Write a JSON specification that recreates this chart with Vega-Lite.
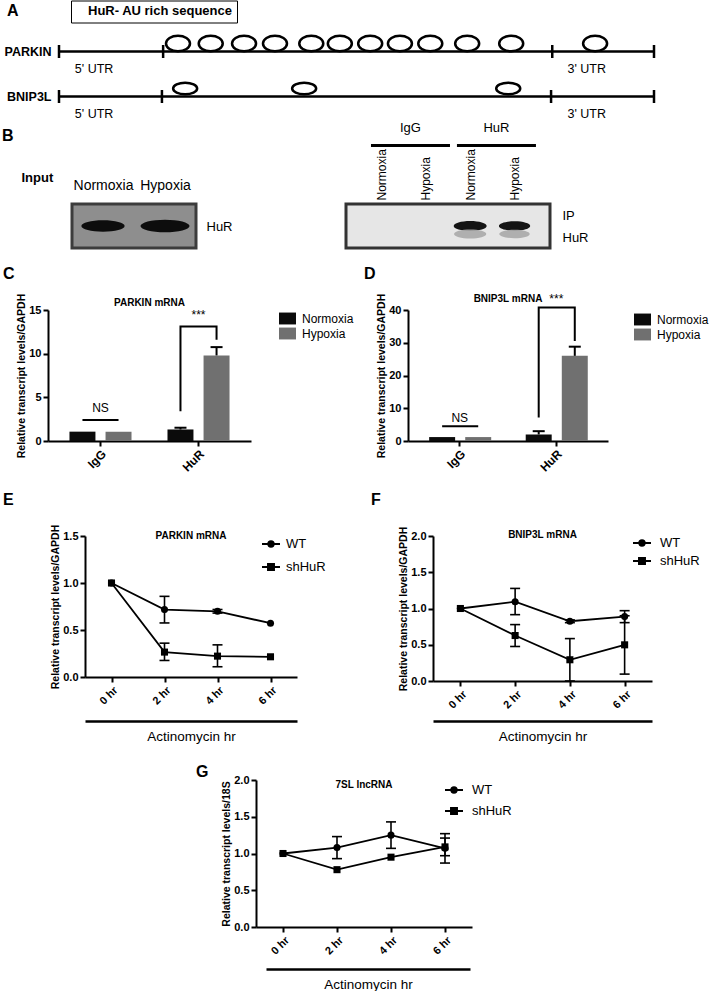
{
  "$schema": "https://vega.github.io/schema/vega-lite/v6.json",
  "background": "white",
  "padding": {"left": 2, "top": 0, "right": 0, "bottom": 0},
  "spacing": 0,
  "resolve": {"scale": {"x": "independent", "y": "independent", "color": "independent", "shape": "independent", "stroke": "independent", "size": "independent"}, "legend": {"color": "independent", "shape": "independent", "stroke": "independent", "size": "independent"}},
  "config": {
    "font": "Liberation Sans",
    "view": {"stroke": null},
    "axis": {"grid": false, "domainColor": "black", "domainWidth": 2, "tickColor": "black", "tickWidth": 2, "tickSize": 5, "labelColor": "black", "labelFont": "Liberation Sans", "labelFontWeight": "bold", "labelFontSize": 11, "titleColor": "black", "titleFont": "Liberation Sans", "titleFontWeight": "bold", "titleFontSize": 10.5},
    "legend": {"labelColor": "black", "labelFont": "Liberation Sans", "padding": 0, "titleColor": "black"},
    "title": {"font": "Liberation Sans", "fontSize": 16, "fontWeight": "bold", "color": "black", "anchor": "start", "frame": "group"},
    "text": {"font": "Liberation Sans", "color": "black"}
  },
  "datasets": {
    "A_lines": [{"gene": "PARKIN", "start": 0, "end": 100}, {"gene": "BNIP3L", "start": 0, "end": 100}],
    "A_ticks": [{"gene": "PARKIN", "pos": 0}, {"gene": "PARKIN", "pos": 17.5}, {"gene": "PARKIN", "pos": 82.9}, {"gene": "PARKIN", "pos": 100}, {"gene": "BNIP3L", "pos": 0}, {"gene": "BNIP3L", "pos": 17.3}, {"gene": "BNIP3L", "pos": 82.7}, {"gene": "BNIP3L", "pos": 100}],
    "A_sites": [
      {"gene": "PARKIN", "pos": 20.0, "feature": "HuR- AU rich sequence"},
      {"gene": "PARKIN", "pos": 25.5, "feature": "HuR- AU rich sequence"},
      {"gene": "PARKIN", "pos": 31.1, "feature": "HuR- AU rich sequence"},
      {"gene": "PARKIN", "pos": 36.3, "feature": "HuR- AU rich sequence"},
      {"gene": "PARKIN", "pos": 42.4, "feature": "HuR- AU rich sequence"},
      {"gene": "PARKIN", "pos": 47.2, "feature": "HuR- AU rich sequence"},
      {"gene": "PARKIN", "pos": 52.3, "feature": "HuR- AU rich sequence"},
      {"gene": "PARKIN", "pos": 57.3, "feature": "HuR- AU rich sequence"},
      {"gene": "PARKIN", "pos": 62.4, "feature": "HuR- AU rich sequence"},
      {"gene": "PARKIN", "pos": 68.6, "feature": "HuR- AU rich sequence"},
      {"gene": "PARKIN", "pos": 76.0, "feature": "HuR- AU rich sequence"},
      {"gene": "PARKIN", "pos": 90.1, "feature": "HuR- AU rich sequence"},
      {"gene": "BNIP3L", "pos": 21.2, "feature": "HuR- AU rich sequence"},
      {"gene": "BNIP3L", "pos": 41.2, "feature": "HuR- AU rich sequence"},
      {"gene": "BNIP3L", "pos": 75.5, "feature": "HuR- AU rich sequence"}
    ],
    "A_labels": [{"gene": "PARKIN", "pos": 5.9, "label": "5' UTR"}, {"gene": "PARKIN", "pos": 88.7, "label": "3' UTR"}, {"gene": "BNIP3L", "pos": 5.9, "label": "5' UTR"}, {"gene": "BNIP3L", "pos": 88.7, "label": "3' UTR"}],
    "BL_bands": [{"lane": "Normoxia", "intensity": 0.78}, {"lane": "Hypoxia", "intensity": 1.0}],
    "BL_rows": [{"protein": "HuR"}],
    "BR_bands": [{"lane": "HuR Normoxia", "intensity": 1.0}, {"lane": "HuR Hypoxia", "intensity": 0.9}],
    "BR_faint": [{"lane": "HuR Normoxia", "intensity": 0.95}, {"lane": "HuR Hypoxia", "intensity": 0.85}],
    "BR_groups": [{"group": "IgG"}, {"group": "HuR"}],
    "BR_rows": [{"protein": "IP"}, {"protein": "HuR"}],
    "C_bars": [{"target": "IgG", "condition": "Normoxia", "mean": 1.07, "hi": 1.07}, {"target": "IgG", "condition": "Hypoxia", "mean": 1.07, "hi": 1.07}, {"target": "HuR", "condition": "Normoxia", "mean": 1.32, "hi": 1.52}, {"target": "HuR", "condition": "Hypoxia", "mean": 9.8, "hi": 10.75}],
    "C_lines": [{"g": "ns", "o": 1, "target": "IgG", "condition": "Normoxia", "v": 2.4}, {"g": "ns", "o": 2, "target": "IgG", "condition": "Hypoxia", "v": 2.4}, {"g": "br", "o": 1, "target": "HuR", "condition": "Normoxia", "v": 3.4}, {"g": "br", "o": 2, "target": "HuR", "condition": "Normoxia", "v": 13.1}, {"g": "br", "o": 3, "target": "HuR", "condition": "Hypoxia", "v": 13.1}, {"g": "br", "o": 4, "target": "HuR", "condition": "Hypoxia", "v": 11.6}],
    "C_text": [{"target": "IgG", "label": "NS", "v": 3.8}, {"target": "HuR", "label": "***", "v": 14.4}],
    "D_bars": [{"target": "IgG", "condition": "Normoxia", "mean": 1.2, "hi": 1.2}, {"target": "IgG", "condition": "Hypoxia", "mean": 1.2, "hi": 1.2}, {"target": "HuR", "condition": "Normoxia", "mean": 2.0, "hi": 3.0}, {"target": "HuR", "condition": "Hypoxia", "mean": 26.0, "hi": 28.8}],
    "D_lines": [{"g": "ns", "o": 1, "target": "IgG", "condition": "Normoxia", "v": 4.5}, {"g": "ns", "o": 2, "target": "IgG", "condition": "Hypoxia", "v": 4.5}, {"g": "br", "o": 1, "target": "HuR", "condition": "Normoxia", "v": 7.2}, {"g": "br", "o": 2, "target": "HuR", "condition": "Normoxia", "v": 40.8}, {"g": "br", "o": 3, "target": "HuR", "condition": "Hypoxia", "v": 40.8}, {"g": "br", "o": 4, "target": "HuR", "condition": "Hypoxia", "v": 30.5}],
    "D_text": [{"target": "IgG", "label": "NS", "v": 6.9}, {"target": "HuR", "label": "***", "v": 43.4}],
    "E": [
      {"series": "WT", "time": "0 hr", "mean": 1.0, "lo": 1.0, "hi": 1.0},
      {"series": "WT", "time": "2 hr", "mean": 0.717, "lo": 0.575, "hi": 0.858},
      {"series": "WT", "time": "4 hr", "mean": 0.699, "lo": 0.68, "hi": 0.718},
      {"series": "WT", "time": "6 hr", "mean": 0.572, "lo": 0.565, "hi": 0.579},
      {"series": "shHuR", "time": "0 hr", "mean": 1.0, "lo": 1.0, "hi": 1.0},
      {"series": "shHuR", "time": "2 hr", "mean": 0.265, "lo": 0.176, "hi": 0.36},
      {"series": "shHuR", "time": "4 hr", "mean": 0.222, "lo": 0.109, "hi": 0.342},
      {"series": "shHuR", "time": "6 hr", "mean": 0.215, "lo": 0.205, "hi": 0.225}
    ],
    "F": [
      {"series": "WT", "time": "0 hr", "mean": 1.0, "lo": 1.0, "hi": 1.0},
      {"series": "WT", "time": "2 hr", "mean": 1.094, "lo": 0.915, "hi": 1.277},
      {"series": "WT", "time": "4 hr", "mean": 0.824, "lo": 0.805, "hi": 0.843},
      {"series": "WT", "time": "6 hr", "mean": 0.888, "lo": 0.805, "hi": 0.97},
      {"series": "shHuR", "time": "0 hr", "mean": 1.0, "lo": 1.0, "hi": 1.0},
      {"series": "shHuR", "time": "2 hr", "mean": 0.627, "lo": 0.476, "hi": 0.778},
      {"series": "shHuR", "time": "4 hr", "mean": 0.293, "lo": 0.0, "hi": 0.585},
      {"series": "shHuR", "time": "6 hr", "mean": 0.499, "lo": 0.095, "hi": 0.9}
    ],
    "G": [
      {"series": "WT", "time": "0 hr", "mean": 1.0, "lo": 1.0, "hi": 1.0},
      {"series": "WT", "time": "2 hr", "mean": 1.08, "lo": 0.93, "hi": 1.23},
      {"series": "WT", "time": "4 hr", "mean": 1.25, "lo": 1.07, "hi": 1.43},
      {"series": "WT", "time": "6 hr", "mean": 1.07, "lo": 0.87, "hi": 1.27},
      {"series": "shHuR", "time": "0 hr", "mean": 1.0, "lo": 1.0, "hi": 1.0},
      {"series": "shHuR", "time": "2 hr", "mean": 0.78, "lo": 0.765, "hi": 0.795},
      {"series": "shHuR", "time": "4 hr", "mean": 0.95, "lo": 0.935, "hi": 0.965},
      {"series": "shHuR", "time": "6 hr", "mean": 1.09, "lo": 0.97, "hi": 1.21}
    ]
  },
  "vconcat": [
    {
      "resolve": {"scale": {"x": "independent", "y": "independent", "color": "independent", "shape": "independent", "stroke": "independent", "size": "independent"}, "legend": {"color": "independent", "shape": "independent", "stroke": "independent", "size": "independent"}},
      "hconcat": [
        {"width": 12, "height": 1, "data": {"values": []}, "mark": "point", "title": {"text": "A", "dx": -40, "offset": 10.5}},
        {
          "width": 595, "height": 92,
          "layer": [
            {"data": {"name": "A_lines"}, "mark": {"type": "rule", "color": "black", "strokeWidth": 2.5},
             "encoding": {
               "x": {"field": "start", "type": "quantitative", "scale": {"domain": [0, 100], "nice": false, "zero": false}, "axis": null},
               "x2": {"field": "end"},
               "y": {"field": "gene", "type": "nominal", "sort": ["PARKIN", "BNIP3L"], "scale": {"type": "point", "padding": 0.522, "align": 0.479}, "axis": {"title": null, "ticks": false, "domain": false, "labelFontSize": 12.5, "labelPadding": 8}}}},
            {"data": {"name": "A_ticks"}, "mark": {"type": "point", "shape": "M0,-1L0,1", "size": 169, "color": "black", "strokeWidth": 2.5, "filled": false, "opacity": 1},
             "encoding": {
               "x": {"field": "pos", "type": "quantitative", "scale": {"domain": [0, 100], "nice": false, "zero": false}, "axis": null},
               "y": {"field": "gene", "type": "nominal", "sort": ["PARKIN", "BNIP3L"], "scale": {"type": "point", "padding": 0.522, "align": 0.479}}}},
            {"data": {"name": "A_sites"}, "mark": {"type": "point", "filled": false, "strokeWidth": 2.5, "size": 576, "yOffset": -8, "opacity": 1},
             "encoding": {
               "x": {"field": "pos", "type": "quantitative", "scale": {"domain": [0, 100], "nice": false, "zero": false}, "axis": null},
               "y": {"field": "gene", "type": "nominal", "sort": ["PARKIN", "BNIP3L"], "scale": {"type": "point", "padding": 0.522, "align": 0.479}},
               "shape": {"field": "gene", "type": "nominal", "scale": {"domain": ["PARKIN", "BNIP3L"], "range": ["M-1,0A1,0.65 0 1,1 1,0A1,0.65 0 1,1 -1,0Z", "M-1,0A1,0.48 0 1,1 1,0A1,0.48 0 1,1 -1,0Z"]}, "legend": null},
               "stroke": {"field": "feature", "type": "nominal", "scale": {"range": ["black"]}, "legend": {"title": null, "orient": "none", "legendX": 12, "legendY": -28.5, "strokeColor": "black", "padding": 4, "symbolOpacity": 0, "symbolSize": 1, "labelOffset": 0, "labelFontSize": 13, "labelFontWeight": "bold", "encode": {"legend": {"update": {"strokeWidth": {"value": 2}}}}}}}},
            {"data": {"name": "A_labels"}, "mark": {"type": "text", "dy": 17, "fontSize": 12.5},
             "encoding": {
               "x": {"field": "pos", "type": "quantitative", "scale": {"domain": [0, 100], "nice": false, "zero": false}, "axis": null},
               "y": {"field": "gene", "type": "nominal", "sort": ["PARKIN", "BNIP3L"], "scale": {"type": "point", "padding": 0.522, "align": 0.479}},
               "text": {"field": "label"}}}
          ]
        }
      ],
      "spacing": 0, "bounds": "flush"
    },
    {
      "resolve": {"scale": {"x": "independent", "y": "independent"}},
      "hconcat": [
        {"width": 299, "height": 1, "data": {"values": []}, "mark": "point", "title": {"text": "B", "dx": -45, "offset": 0}},
        {"width": 204, "height": 3, "data": {"name": "BR_groups"}, "mark": {"type": "bar", "color": "black"},
         "encoding": {"x": {"field": "group", "type": "nominal", "sort": ["IgG", "HuR"], "scale": {"paddingInner": 0.081, "paddingOuter": 0.227, "align": 0.64}, "axis": {"orient": "top", "title": null, "labelAngle": 0, "labelFontWeight": "normal", "labelFontSize": 13, "labelPadding": 10, "ticks": false, "domain": false}}}}
      ],
      "spacing": 0, "bounds": "flush"
    },
    {
      "resolve": {"scale": {"x": "independent", "y": "independent", "size": "independent"}, "legend": {"size": "independent"}},
      "hconcat": [
        {"width": 25, "height": 1, "data": {"values": []}, "mark": "point"},
        {
          "width": 124, "height": 44,
          "view": {"fill": "#8e8e8e", "stroke": "#3c3c3c", "strokeWidth": 3},
          "layer": [
            {"data": {"name": "BL_bands"}, "mark": {"type": "point", "shape": "M-1,0A1,0.26 0 1,1 1,0A1,0.26 0 1,1 -1,0Z", "filled": true, "color": "#0d0d0d", "opacity": 1},
             "encoding": {
               "x": {"field": "lane", "type": "nominal", "scale": {"type": "point", "domain": ["Normoxia", "Hypoxia"], "padding": 0.5}, "axis": {"orient": "top", "title": "Input", "titleX": -51, "titleY": -27, "titleAlign": "left", "titleBaseline": "middle", "titleFontSize": 13, "titleFontWeight": "bold", "titleAngle": 0, "labelAngle": 0, "labelFontWeight": "normal", "labelFontSize": 14, "labelPadding": 12, "ticks": false, "domain": false}},
               "size": {"field": "intensity", "type": "quantitative", "scale": {"domain": [0, 1], "range": [0, 2401]}, "legend": null}}},
            {"data": {"name": "BL_rows"}, "mark": {"type": "text", "text": ""},
             "encoding": {"y": {"field": "protein", "type": "nominal", "scale": {"type": "point", "padding": 0.5}, "axis": {"orient": "right", "title": null, "ticks": false, "domain": false, "labelFontWeight": "normal", "labelFontSize": 13, "labelPadding": 10}}}}
          ]
        },
        {"width": 150, "height": 1, "data": {"values": []}, "mark": "point"},
        {
          "width": 204, "height": 44,
          "view": {"fill": "#e6e6e6", "stroke": "#333333", "strokeWidth": 3},
          "layer": [
            {"data": {"name": "BR_bands"}, "mark": {"type": "point", "shape": "M-1,0A1,0.3 0 1,1 1,0A1,0.3 0 1,1 -1,0Z", "filled": true, "color": "#141414", "opacity": 1},
             "encoding": {
               "x": {"field": "lane", "type": "nominal", "scale": {"type": "point", "domain": ["IgG Normoxia", "IgG Hypoxia", "HuR Normoxia", "HuR Hypoxia"], "padding": 0.8}, "axis": {"orient": "top", "title": null, "labelExpr": "split(datum.label, ' ')[1]", "labelAngle": -90, "labelAlign": "left", "labelBaseline": "middle", "labelFontWeight": "normal", "labelFontSize": 12, "labelPadding": 4, "ticks": false, "domain": false}},
               "size": {"field": "intensity", "type": "quantitative", "scale": {"domain": [0, 1], "range": [0, 1089]}, "legend": null}}},
            {"data": {"name": "BR_faint"}, "mark": {"type": "point", "shape": "M-1,0A1,0.28 0 1,1 1,0A1,0.28 0 1,1 -1,0Z", "filled": true, "color": "#a8a8a8", "opacity": 0.9, "yOffset": 8},
             "encoding": {
               "x": {"field": "lane", "type": "nominal"},
               "size": {"field": "intensity", "type": "quantitative", "legend": null}}},
            {"data": {"name": "BR_rows"}, "mark": {"type": "text", "text": ""},
             "encoding": {"y": {"field": "protein", "type": "nominal", "sort": ["IP", "HuR"], "scale": {"type": "point", "padding": 0.5}, "axis": {"orient": "right", "title": null, "ticks": false, "domain": false, "labelFontWeight": "normal", "labelFontSize": 13, "labelPadding": 12}}}}
          ]
        }
      ],
      "spacing": 0, "bounds": "flush"
    },
    {"width": 1, "height": 16, "data": {"values": []}, "mark": "point"},
    {
      "resolve": {"scale": {"x": "independent", "y": "independent", "color": "independent"}, "legend": {"color": "independent"}},
      "hconcat": [
        {"width": 1, "height": 1, "data": {"values": []}, "mark": "point", "title": {"text": "C", "dx": -44, "offset": 28}},
        {
          "width": 203, "height": 131,
          "title": {"text": "PARKIN mRNA", "anchor": "middle", "fontSize": 10, "offset": -15},
          "layer": [
            {"data": {"name": "C_bars"}, "mark": {"type": "bar"},
             "encoding": {
               "x": {"field": "target", "type": "nominal", "sort": ["IgG", "HuR"], "scale": {"paddingInner": 0.367, "paddingOuter": 0.219}, "axis": {"title": null, "labelAngle": -45, "labelFontSize": 12}},
               "xOffset": {"field": "condition", "type": "nominal", "sort": ["Normoxia", "Hypoxia"], "scale": {"paddingInner": 0.28, "paddingOuter": 0}},
               "y": {"field": "mean", "type": "quantitative", "scale": {"domain": [0, 15], "nice": false}, "axis": {"values": [0, 5, 10, 15], "tickCount": 20, "labelOverlap": false, "title": "Relative transcript levels/GAPDH", "titlePadding": 2}},
               "color": {"field": "condition", "type": "nominal", "scale": {"domain": ["Normoxia", "Hypoxia"], "range": ["#0b0b0b", "#707070"]}, "legend": {"title": null, "orient": "none", "legendX": 231, "legendY": 0, "symbolType": "M-1,-0.7H1V0.7H-1Z", "symbolSize": 289, "symbolStrokeWidth": 0, "labelFontSize": 12, "labelOffset": 6, "rowPadding": 0}}}},
            {"data": {"name": "C_bars"}, "transform": [{"filter": "datum.hi > datum.mean"}], "mark": {"type": "rule", "color": "black", "strokeWidth": 2},
             "encoding": {
               "x": {"field": "target", "type": "nominal", "sort": ["IgG", "HuR"]},
               "xOffset": {"field": "condition", "type": "nominal", "sort": ["Normoxia", "Hypoxia"]},
               "y": {"field": "mean", "type": "quantitative"},
               "y2": {"field": "hi"}}},
            {"data": {"name": "C_bars"}, "transform": [{"filter": "datum.hi > datum.mean"}], "mark": {"type": "point", "shape": "M-1,0H1", "size": 144, "color": "black", "strokeWidth": 2, "filled": false, "opacity": 1},
             "encoding": {
               "x": {"field": "target", "type": "nominal", "sort": ["IgG", "HuR"]},
               "xOffset": {"field": "condition", "type": "nominal", "sort": ["Normoxia", "Hypoxia"]},
               "y": {"field": "hi", "type": "quantitative"}}},
            {"data": {"name": "C_lines"}, "mark": {"type": "line", "color": "black", "strokeWidth": 2},
             "encoding": {
               "x": {"field": "target", "type": "nominal", "sort": ["IgG", "HuR"]},
               "xOffset": {"field": "condition", "type": "nominal", "sort": ["Normoxia", "Hypoxia"]},
               "y": {"field": "v", "type": "quantitative"},
               "detail": {"field": "g", "type": "nominal"},
               "order": {"field": "o", "type": "quantitative"}}},
            {"data": {"name": "C_text"}, "mark": {"type": "text", "fontSize": 12, "baseline": "middle"},
             "encoding": {
               "x": {"field": "target", "type": "nominal", "sort": ["IgG", "HuR"]},
               "y": {"field": "v", "type": "quantitative"},
               "text": {"field": "label"}}}
          ]
        },
        {"width": 157, "height": 1, "data": {"values": []}, "mark": "point", "title": {"text": "D", "dx": 113, "offset": 28}},
        {
          "width": 200, "height": 131,
          "title": {"text": "BNIP3L mRNA", "anchor": "middle", "fontSize": 10, "offset": -11},
          "layer": [
            {"data": {"name": "D_bars"}, "mark": {"type": "bar"},
             "encoding": {
               "x": {"field": "target", "type": "nominal", "sort": ["IgG", "HuR"], "scale": {"paddingInner": 0.367, "paddingOuter": 0.219}, "axis": {"title": null, "labelAngle": -45, "labelFontSize": 12}},
               "xOffset": {"field": "condition", "type": "nominal", "sort": ["Normoxia", "Hypoxia"], "scale": {"paddingInner": 0.28, "paddingOuter": 0}},
               "y": {"field": "mean", "type": "quantitative", "scale": {"domain": [0, 40], "nice": false}, "axis": {"values": [0, 10, 20, 30, 40], "tickCount": 20, "labelOverlap": false, "title": "Relative transcript levels/GAPDH", "titlePadding": 2}},
               "color": {"field": "condition", "type": "nominal", "scale": {"domain": ["Normoxia", "Hypoxia"], "range": ["#0b0b0b", "#707070"]}, "legend": {"title": null, "orient": "none", "legendX": 226, "legendY": 1, "symbolType": "M-1,-0.7H1V0.7H-1Z", "symbolSize": 289, "symbolStrokeWidth": 0, "labelFontSize": 12, "labelOffset": 6, "rowPadding": 0}}}},
            {"data": {"name": "D_bars"}, "transform": [{"filter": "datum.hi > datum.mean"}], "mark": {"type": "rule", "color": "black", "strokeWidth": 2},
             "encoding": {
               "x": {"field": "target", "type": "nominal", "sort": ["IgG", "HuR"]},
               "xOffset": {"field": "condition", "type": "nominal", "sort": ["Normoxia", "Hypoxia"]},
               "y": {"field": "mean", "type": "quantitative"},
               "y2": {"field": "hi"}}},
            {"data": {"name": "D_bars"}, "transform": [{"filter": "datum.hi > datum.mean"}], "mark": {"type": "point", "shape": "M-1,0H1", "size": 144, "color": "black", "strokeWidth": 2, "filled": false, "opacity": 1},
             "encoding": {
               "x": {"field": "target", "type": "nominal", "sort": ["IgG", "HuR"]},
               "xOffset": {"field": "condition", "type": "nominal", "sort": ["Normoxia", "Hypoxia"]},
               "y": {"field": "hi", "type": "quantitative"}}},
            {"data": {"name": "D_lines"}, "mark": {"type": "line", "color": "black", "strokeWidth": 2},
             "encoding": {
               "x": {"field": "target", "type": "nominal", "sort": ["IgG", "HuR"]},
               "xOffset": {"field": "condition", "type": "nominal", "sort": ["Normoxia", "Hypoxia"]},
               "y": {"field": "v", "type": "quantitative"},
               "detail": {"field": "g", "type": "nominal"},
               "order": {"field": "o", "type": "quantitative"}}},
            {"data": {"name": "D_text"}, "mark": {"type": "text", "fontSize": 12, "baseline": "middle"},
             "encoding": {
               "x": {"field": "target", "type": "nominal", "sort": ["IgG", "HuR"]},
               "y": {"field": "v", "type": "quantitative"},
               "text": {"field": "label"}}}
          ]
        }
      ],
      "spacing": 0, "bounds": "flush"
    },
    {"width": 1, "height": 18, "data": {"values": []}, "mark": "point"},
    {
      "resolve": {"scale": {"x": "independent", "y": "independent", "shape": "independent"}, "legend": {"shape": "independent"}},
      "hconcat": [
        {"width": 38, "height": 1, "data": {"values": []}, "mark": "point", "title": {"text": "E", "dx": -44, "offset": 28}},
        {
          "width": 212, "height": 141,
          "data": {"name": "E"},
          "title": {"text": "PARKIN mRNA", "anchor": "middle", "fontSize": 10, "offset": -17},
          "resolve": {"scale": {"shape": "independent"}, "legend": {"shape": "independent"}},
          "layer": [
            {"mark": {"type": "line", "color": "black", "strokeWidth": 1.8},
             "encoding": {
               "x": {"field": "time", "type": "nominal", "sort": ["0 hr", "2 hr", "4 hr", "6 hr"], "scale": {"type": "point", "padding": 0.5}, "axis": {"title": null, "labelAngle": -45, "labelFontSize": 11}},
               "y": {"field": "mean", "type": "quantitative", "scale": {"domain": [0, 1.5], "nice": false}, "axis": {"values": [0, 0.5, 1, 1.5], "tickCount": 20, "labelOverlap": false, "format": ".1f", "title": "Relative transcript levels/GAPDH", "titlePadding": 2}},
               "detail": {"field": "series", "type": "nominal"}}},
            {"transform": [{"filter": "datum.hi - datum.lo > 0.025"}], "mark": {"type": "rule", "color": "black", "strokeWidth": 1.6},
             "encoding": {
               "x": {"field": "time", "type": "nominal", "sort": ["0 hr", "2 hr", "4 hr", "6 hr"]},
               "y": {"field": "lo", "type": "quantitative"},
               "y2": {"field": "hi"}}},
            {"transform": [{"filter": "datum.hi - datum.lo > 0.025"}], "mark": {"type": "point", "shape": "M-1,0H1", "size": 100, "color": "black", "strokeWidth": 1.6, "filled": false, "opacity": 1},
             "encoding": {
               "x": {"field": "time", "type": "nominal", "sort": ["0 hr", "2 hr", "4 hr", "6 hr"]},
               "y": {"field": "lo", "type": "quantitative"}}},
            {"transform": [{"filter": "datum.hi - datum.lo > 0.025"}], "mark": {"type": "point", "shape": "M-1,0H1", "size": 100, "color": "black", "strokeWidth": 1.6, "filled": false, "opacity": 1},
             "encoding": {
               "x": {"field": "time", "type": "nominal", "sort": ["0 hr", "2 hr", "4 hr", "6 hr"]},
               "y": {"field": "hi", "type": "quantitative"}}},
            {"mark": {"type": "point", "filled": true, "color": "black", "opacity": 1, "size": 50},
             "encoding": {
               "x": {"field": "time", "type": "nominal", "sort": ["0 hr", "2 hr", "4 hr", "6 hr"]},
               "y": {"field": "mean", "type": "quantitative"},
               "shape": {"field": "series", "type": "nominal", "scale": {"domain": ["WT", "shHuR"], "range": ["circle", "square"]}, "legend": null}}},
            {"transform": [{"filter": "false"}], "mark": {"type": "point", "filled": false, "color": "black", "strokeWidth": 2, "opacity": 1, "size": 324},
             "encoding": {
               "x": {"field": "time", "type": "nominal", "sort": ["0 hr", "2 hr", "4 hr", "6 hr"]},
               "y": {"field": "mean", "type": "quantitative"},
               "shape": {"field": "series", "type": "nominal", "scale": {"domain": ["WT", "shHuR"], "range": ["M-1,0H1M0.3,0A0.3,0.3 0 1,1 -0.3,0A0.3,0.3 0 1,1 0.3,0ZM0.13,0A0.13,0.13 0 1,1 -0.13,0A0.13,0.13 0 1,1 0.13,0Z", "M-1,0H1M-0.33,-0.33H0.33V0.33H-0.33ZM-0.12,-0.12H0.12V0.12H-0.12Z"]}, "legend": {"title": null, "orient": "none", "legendX": 176, "legendY": -2, "labelFontSize": 13, "labelOffset": 5, "rowPadding": 6, "symbolSize": 324, "symbolStrokeWidth": 2, "symbolStrokeColor": "black"}}}}
          ]
        },
        {"width": 136, "height": 1, "data": {"values": []}, "mark": "point", "title": {"text": "F", "dx": 74, "offset": 28}},
        {
          "width": 219, "height": 145,
          "data": {"name": "F"},
          "title": {"text": "BNIP3L mRNA", "anchor": "middle", "fontSize": 10, "offset": -14},
          "resolve": {"scale": {"shape": "independent"}, "legend": {"shape": "independent"}},
          "layer": [
            {"mark": {"type": "line", "color": "black", "strokeWidth": 1.8},
             "encoding": {
               "x": {"field": "time", "type": "nominal", "sort": ["0 hr", "2 hr", "4 hr", "6 hr"], "scale": {"type": "point", "padding": 0.5}, "axis": {"title": null, "labelAngle": -45, "labelFontSize": 11}},
               "y": {"field": "mean", "type": "quantitative", "scale": {"domain": [0, 2], "nice": false}, "axis": {"values": [0, 0.5, 1, 1.5, 2], "tickCount": 20, "labelOverlap": false, "format": ".1f", "title": "Relative transcript levels/GAPDH", "titlePadding": 2}},
               "detail": {"field": "series", "type": "nominal"}}},
            {"transform": [{"filter": "datum.hi - datum.lo > 0.025"}], "mark": {"type": "rule", "color": "black", "strokeWidth": 1.6},
             "encoding": {
               "x": {"field": "time", "type": "nominal", "sort": ["0 hr", "2 hr", "4 hr", "6 hr"]},
               "y": {"field": "lo", "type": "quantitative"},
               "y2": {"field": "hi"}}},
            {"transform": [{"filter": "datum.hi - datum.lo > 0.025"}], "mark": {"type": "point", "shape": "M-1,0H1", "size": 100, "color": "black", "strokeWidth": 1.6, "filled": false, "opacity": 1},
             "encoding": {
               "x": {"field": "time", "type": "nominal", "sort": ["0 hr", "2 hr", "4 hr", "6 hr"]},
               "y": {"field": "lo", "type": "quantitative"}}},
            {"transform": [{"filter": "datum.hi - datum.lo > 0.025"}], "mark": {"type": "point", "shape": "M-1,0H1", "size": 100, "color": "black", "strokeWidth": 1.6, "filled": false, "opacity": 1},
             "encoding": {
               "x": {"field": "time", "type": "nominal", "sort": ["0 hr", "2 hr", "4 hr", "6 hr"]},
               "y": {"field": "hi", "type": "quantitative"}}},
            {"mark": {"type": "point", "filled": true, "color": "black", "opacity": 1, "size": 50},
             "encoding": {
               "x": {"field": "time", "type": "nominal", "sort": ["0 hr", "2 hr", "4 hr", "6 hr"]},
               "y": {"field": "mean", "type": "quantitative"},
               "shape": {"field": "series", "type": "nominal", "scale": {"domain": ["WT", "shHuR"], "range": ["circle", "square"]}, "legend": null}}},
            {"transform": [{"filter": "false"}], "mark": {"type": "point", "filled": false, "color": "black", "strokeWidth": 2, "opacity": 1, "size": 324},
             "encoding": {
               "x": {"field": "time", "type": "nominal", "sort": ["0 hr", "2 hr", "4 hr", "6 hr"]},
               "y": {"field": "mean", "type": "quantitative"},
               "shape": {"field": "series", "type": "nominal", "scale": {"domain": ["WT", "shHuR"], "range": ["M-1,0H1M0.3,0A0.3,0.3 0 1,1 -0.3,0A0.3,0.3 0 1,1 0.3,0ZM0.13,0A0.13,0.13 0 1,1 -0.13,0A0.13,0.13 0 1,1 0.13,0Z", "M-1,0H1M-0.33,-0.33H0.33V0.33H-0.33ZM-0.12,-0.12H0.12V0.12H-0.12Z"]}, "legend": {"title": null, "orient": "none", "legendX": 199, "legendY": -3, "labelFontSize": 13, "labelOffset": 8, "rowPadding": 1, "symbolSize": 324, "symbolStrokeWidth": 2, "symbolStrokeColor": "black"}}}}
          ]
        }
      ],
      "spacing": 0, "bounds": "flush"
    },
    {"width": 1, "height": 6, "data": {"values": []}, "mark": "point"},
    {
      "resolve": {"scale": {"x": "independent", "y": "independent"}},
      "hconcat": [
        {"width": 38, "height": 1, "data": {"values": []}, "mark": "point"},
        {"width": 212, "height": 1, "data": {"name": "E"}, "mark": {"type": "point", "opacity": 0},
         "encoding": {"x": {"field": "time", "type": "nominal", "sort": ["0 hr", "2 hr", "4 hr", "6 hr"], "scale": {"type": "point", "padding": 0.5}, "axis": {"orient": "bottom", "labels": false, "ticks": false, "domain": true, "domainWidth": 2.5, "title": "Actinomycin hr", "titleFontSize": 13.5, "titleFontWeight": "normal", "titlePadding": 8}}}},
        {"width": 136, "height": 1, "data": {"values": []}, "mark": "point"},
        {"width": 219, "height": 1, "data": {"name": "F"}, "mark": {"type": "point", "opacity": 0},
         "encoding": {"x": {"field": "time", "type": "nominal", "sort": ["0 hr", "2 hr", "4 hr", "6 hr"], "scale": {"type": "point", "padding": 0.5}, "axis": {"orient": "bottom", "labels": false, "ticks": false, "domain": true, "domainWidth": 2.5, "title": "Actinomycin hr", "titleFontSize": 13.5, "titleFontWeight": "normal", "titlePadding": 8}}}}
      ],
      "spacing": 0, "bounds": "flush"
    },
    {"width": 1, "height": 21, "data": {"values": []}, "mark": "point"},
    {
      "resolve": {"scale": {"x": "independent", "y": "independent", "shape": "independent"}, "legend": {"shape": "independent"}},
      "hconcat": [
        {"width": 209, "height": 1, "data": {"values": []}, "mark": "point", "title": {"text": "G", "dx": 149, "offset": 0}},
        {
          "width": 216, "height": 147,
          "data": {"name": "G"},
          "title": {"text": "7SL lncRNA", "anchor": "middle", "fontSize": 10, "offset": -16},
          "resolve": {"scale": {"shape": "independent"}, "legend": {"shape": "independent"}},
          "layer": [
            {"mark": {"type": "line", "color": "black", "strokeWidth": 1.8},
             "encoding": {
               "x": {"field": "time", "type": "nominal", "sort": ["0 hr", "2 hr", "4 hr", "6 hr"], "scale": {"type": "point", "padding": 0.5}, "axis": {"title": null, "labelAngle": -45, "labelFontSize": 11}},
               "y": {"field": "mean", "type": "quantitative", "scale": {"domain": [0, 2], "nice": false}, "axis": {"values": [0, 0.5, 1, 1.5, 2], "tickCount": 20, "labelOverlap": false, "format": ".1f", "title": "Relative transcript levels/18S", "titlePadding": 2}},
               "detail": {"field": "series", "type": "nominal"}}},
            {"transform": [{"filter": "datum.hi - datum.lo > 0.035"}], "mark": {"type": "rule", "color": "black", "strokeWidth": 1.6},
             "encoding": {
               "x": {"field": "time", "type": "nominal", "sort": ["0 hr", "2 hr", "4 hr", "6 hr"]},
               "y": {"field": "lo", "type": "quantitative"},
               "y2": {"field": "hi"}}},
            {"transform": [{"filter": "datum.hi - datum.lo > 0.035"}], "mark": {"type": "point", "shape": "M-1,0H1", "size": 100, "color": "black", "strokeWidth": 1.6, "filled": false, "opacity": 1},
             "encoding": {
               "x": {"field": "time", "type": "nominal", "sort": ["0 hr", "2 hr", "4 hr", "6 hr"]},
               "y": {"field": "lo", "type": "quantitative"}}},
            {"transform": [{"filter": "datum.hi - datum.lo > 0.035"}], "mark": {"type": "point", "shape": "M-1,0H1", "size": 100, "color": "black", "strokeWidth": 1.6, "filled": false, "opacity": 1},
             "encoding": {
               "x": {"field": "time", "type": "nominal", "sort": ["0 hr", "2 hr", "4 hr", "6 hr"]},
               "y": {"field": "hi", "type": "quantitative"}}},
            {"mark": {"type": "point", "filled": true, "color": "black", "opacity": 1, "size": 50},
             "encoding": {
               "x": {"field": "time", "type": "nominal", "sort": ["0 hr", "2 hr", "4 hr", "6 hr"]},
               "y": {"field": "mean", "type": "quantitative"},
               "shape": {"field": "series", "type": "nominal", "scale": {"domain": ["WT", "shHuR"], "range": ["circle", "square"]}, "legend": null}}},
            {"transform": [{"filter": "false"}], "mark": {"type": "point", "filled": false, "color": "black", "strokeWidth": 2, "opacity": 1, "size": 324},
             "encoding": {
               "x": {"field": "time", "type": "nominal", "sort": ["0 hr", "2 hr", "4 hr", "6 hr"]},
               "y": {"field": "mean", "type": "quantitative"},
               "shape": {"field": "series", "type": "nominal", "scale": {"domain": ["WT", "shHuR"], "range": ["M-1,0H1M0.3,0A0.3,0.3 0 1,1 -0.3,0A0.3,0.3 0 1,1 0.3,0ZM0.13,0A0.13,0.13 0 1,1 -0.13,0A0.13,0.13 0 1,1 0.13,0Z", "M-1,0H1M-0.33,-0.33H0.33V0.33H-0.33ZM-0.12,-0.12H0.12V0.12H-0.12Z"]}, "legend": {"title": null, "orient": "none", "legendX": 188, "legendY": 0, "labelFontSize": 13, "labelOffset": 8, "rowPadding": 4, "symbolSize": 324, "symbolStrokeWidth": 2, "symbolStrokeColor": "black"}}}}
          ]
        }
      ],
      "spacing": 0, "bounds": "flush"
    },
    {"width": 1, "height": 8, "data": {"values": []}, "mark": "point"},
    {
      "resolve": {"scale": {"x": "independent", "y": "independent"}},
      "hconcat": [
        {"width": 219, "height": 1, "data": {"values": []}, "mark": "point"},
        {"width": 204, "height": 1, "data": {"name": "G"}, "mark": {"type": "point", "opacity": 0},
         "encoding": {"x": {"field": "time", "type": "nominal", "sort": ["0 hr", "2 hr", "4 hr", "6 hr"], "scale": {"type": "point", "padding": 0.5}, "axis": {"orient": "bottom", "labels": false, "ticks": false, "domain": true, "domainWidth": 2.5, "title": "Actinomycin hr", "titleFontSize": 13.5, "titleFontWeight": "normal", "titlePadding": 8}}}}
      ],
      "spacing": 0, "bounds": "flush"
    }
  ]
}
